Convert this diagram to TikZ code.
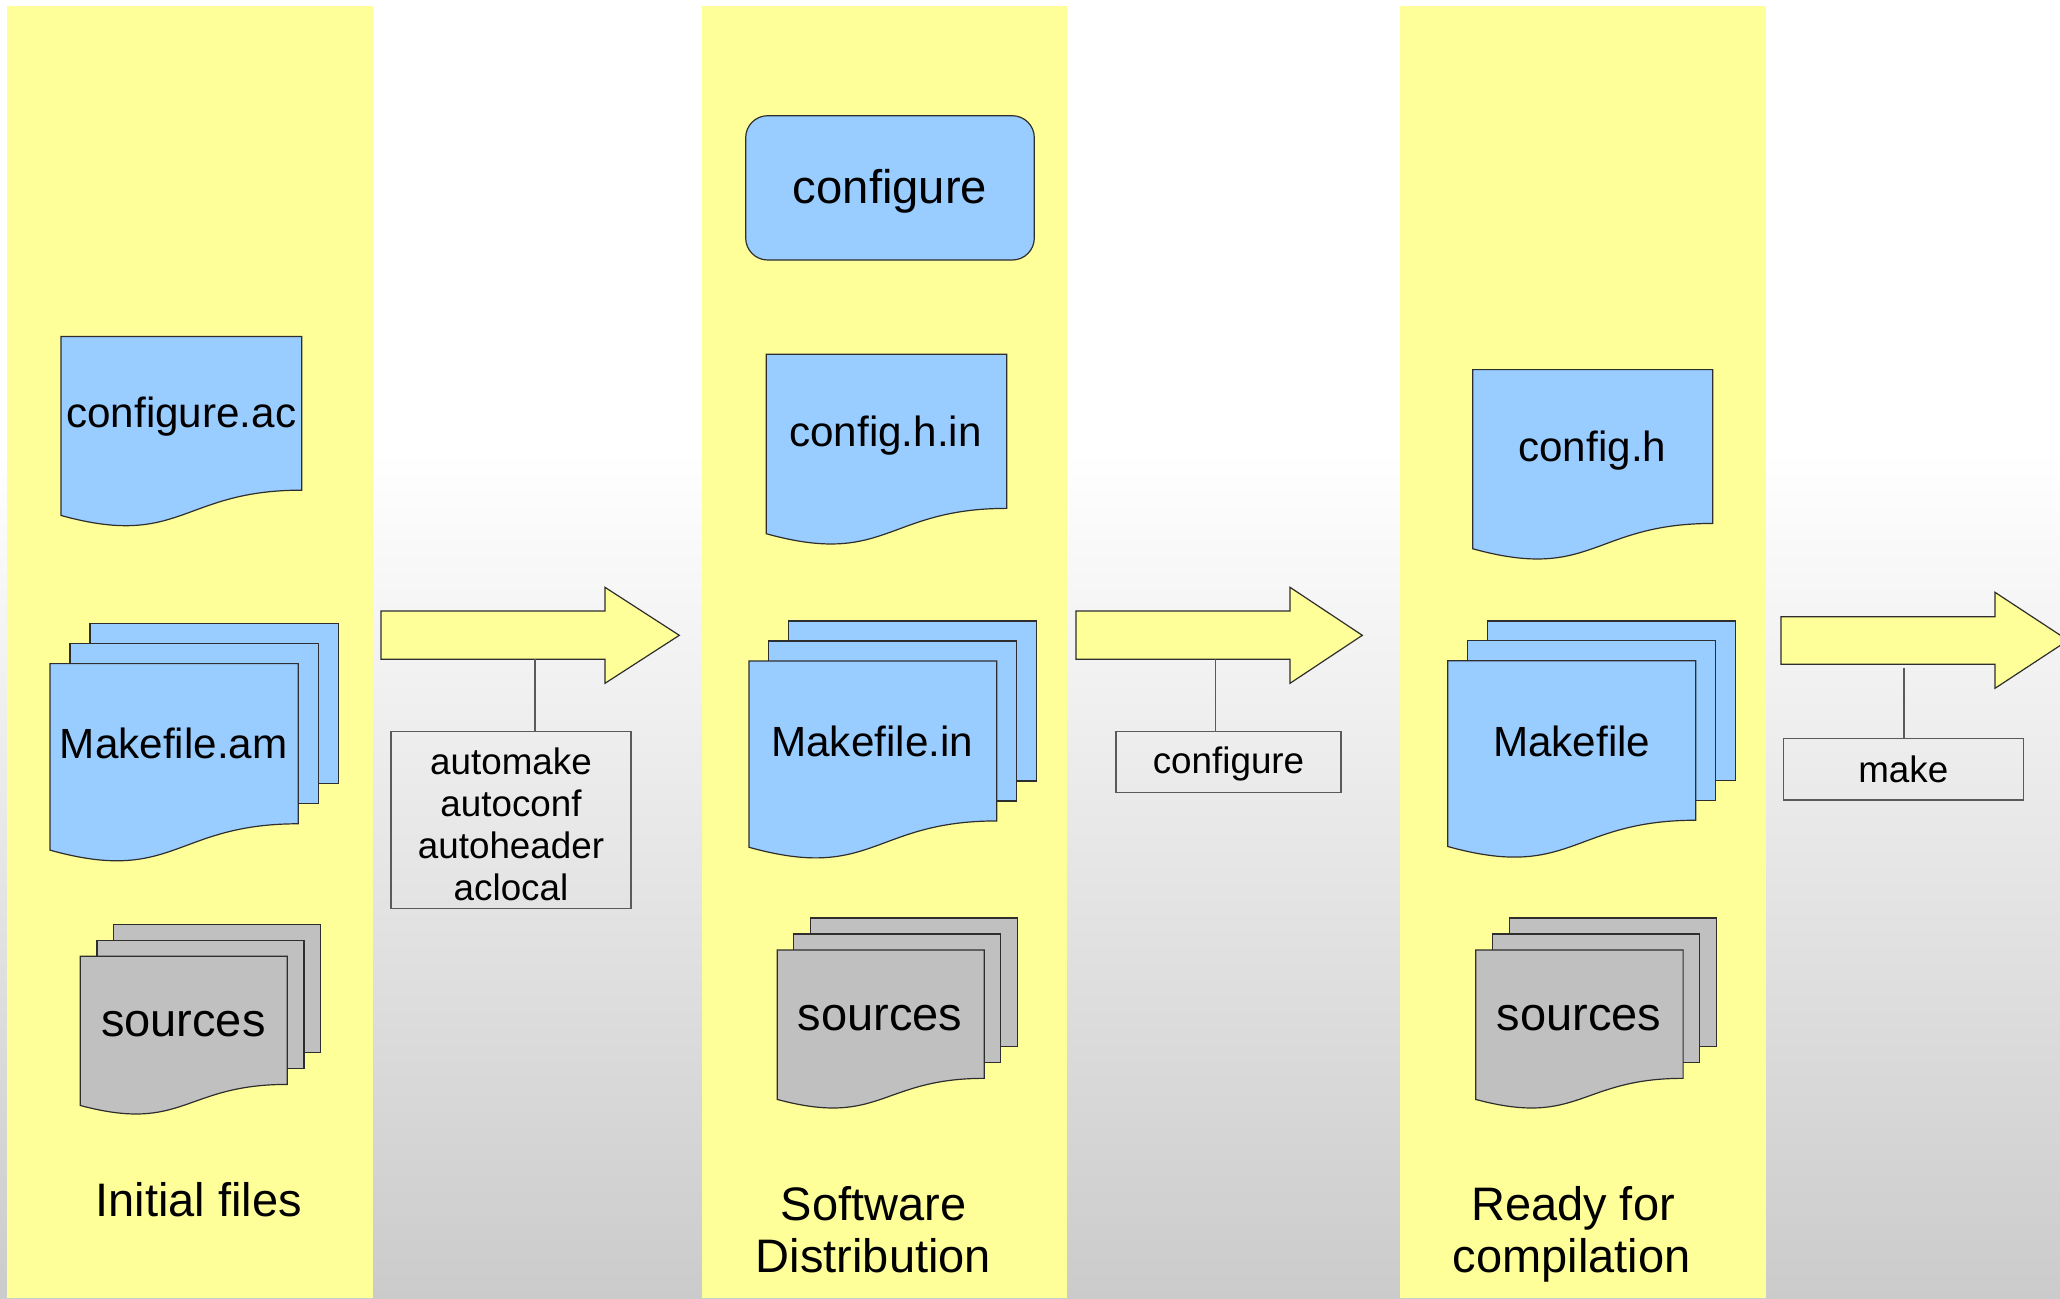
\documentclass[tikz,border=0pt]{standalone}
\usepackage{fontspec}
\setmainfont{Liberation Sans}

\definecolor{laneyellow}{HTML}{FFFF99}
\definecolor{fileblue}{HTML}{99CCFF}
\definecolor{srcgray}{HTML}{C0C0C0}
\definecolor{edgedark}{HTML}{2E2E2E}
\definecolor{boxgray}{HTML}{5A5A5A}
\definecolor{bgbottom}{HTML}{CBCBCB}

\tikzset{
  outline/.style={draw=edgedark, line width=0.6pt, line join=miter},
  captiontxt/.style={font=\fontsize{23.5}{26.4}\selectfont, anchor=base, inner sep=0pt},
  filetxt/.style={font=\fontsize{21.1}{25}\selectfont, anchor=base, inner sep=0pt},
  toolbox/.style={draw=boxgray, line width=0.6pt, align=center, inner sep=0pt,
    font=\fontsize{18.4}{21}\selectfont},
  tooltxt/.style={align=center, inner sep=0pt, font=\fontsize{18.4}{21}\selectfont},
  tie/.style={draw=boxgray, line width=0.75pt},
  fatarrow/.style={outline, fill=laneyellow},
}

% single document sheet with a wavy lower edge: x0, y0, width, height, fill
\newcommand\docsheet[5]{%
  \filldraw[outline, fill=#5] (#1,#2) -- ({#1+#3},#2) -- ({#1+#3},{#2+0.802*#4})
    .. controls ({#1+0.5*#3},{#2+0.802*#4}) and ({#1+0.5*#3},{#2+1.1075*#4})
    .. (#1,{#2+0.934*#4}) -- cycle;}
% stack of three sheets: x0, y0, width, height (front sheet), dx, dy, fill
\newcommand\sheetstack[7]{%
  \filldraw[outline, fill=#7] ({#1+2*#5},{#2-2*#6}) rectangle ++(#3,{0.802*#4});
  \filldraw[outline, fill=#7] ({#1+#5},{#2-#6}) rectangle ++(#3,{0.802*#4});
  \docsheet{#1}{#2}{#3}{#4}{#7}}
% block arrow: left x, shaft top y, shaft bottom y, head base x, head top y, head bottom y, tip x
\newcommand\blockarrow[7]{%
  \filldraw[fatarrow] (#1,#2) -- (#4,#2) -- (#4,#5) -- (#7,{0.5*(#5+#6)})
    -- (#4,#6) -- (#4,#3) -- (#1,#3) -- cycle;}

\begin{document}
\begin{tikzpicture}[x=0.5pt, y=-0.5pt]
  \useasboundingbox (0,0) rectangle (2060,1298);
  \clip (0,0) rectangle (2060,1298);

  % page background: white, fading to grey towards the bottom
  \fill[white] (0,0) rectangle (2060,1298);
  \shade[top color=white, bottom color=bgbottom] (0,450) rectangle (2060,1298);

  % the three stage lanes
  \fill[laneyellow] (7,6) rectangle (373,1298);
  \fill[laneyellow] (701.5,6) rectangle (1066.7,1298);
  \fill[laneyellow] (1399.5,6) rectangle (1766,1298);

  % ---------- stage 1: initial files ----------
  \docsheet{61}{336.4}{240.7}{191.7}{fileblue}
  \node[filetxt] (confac) at (181.2,427) {configure.ac};

  \sheetstack{50}{663.6}{248.3}{199.7}{20}{20}{fileblue}
  \node[filetxt] (mkam) at (173.7,758) {Makefile.am};

  \sheetstack{80.3}{956.3}{207}{159.7}{16.7}{16}{srcgray}
  \node[captiontxt] (srcA) at (183.3,1036) {sources};

  \node[captiontxt] (capA) at (198.7,1216) {Initial files};

  % ---------- stage 2: software distribution ----------
  \node[outline, fill=fileblue, rounded corners=11pt, minimum width=144.3pt,
        minimum height=72.15pt, inner sep=0pt, text height=20pt, text depth=4.6pt,
        font=\fontsize{23.6}{26}\selectfont]
        (confscript) at (890,187.85) {configure};

  \docsheet{766.3}{354.3}{240.4}{192.1}{fileblue}
  \node[filetxt] (confhin) at (885.5,446) {config.h.in};

  \sheetstack{749}{661}{247.7}{199.4}{19.7}{20}{fileblue}
  \node[filetxt] (mkin) at (872.2,756.8) {Makefile.in};

  \sheetstack{777.3}{950}{207}{160}{16.5}{16}{srcgray}
  \node[captiontxt] (srcB) at (880,1030) {sources};

  \node[captiontxt] (capB1) at (873.5,1220) {Software};
  \node[captiontxt] (capB2) at (873.5,1272.7) {Distribution};

  % ---------- stage 3: ready for compilation ----------
  \docsheet{1472.7}{369.6}{240}{191.8}{fileblue}
  \node[filetxt] (confh) at (1592.3,461.4) {config.h};

  \sheetstack{1447.7}{660.7}{248}{198.9}{20}{19.9}{fileblue}
  \node[filetxt] (mkfile) at (1571.7,756) {Makefile};

  \sheetstack{1475.8}{950}{207.3}{160}{16.7}{16}{srcgray}
  \node[captiontxt] (srcC) at (1579,1030) {sources};

  \node[captiontxt] (capC1) at (1573,1220) {Ready for};
  \node[captiontxt] (capC2) at (1571.7,1272.7) {compilation};

  % ---------- transitions between stages ----------
  \blockarrow{381}{611}{659.3}{605}{587.3}{683.3}{679.3}
  \coordinate (stepA) at (535,659.3);
  \node[toolbox, minimum width=120pt, minimum height=88.3pt] (toolsA) at (511,820) {};
  \node[tooltxt] (toolsAtext) at ([yshift=-2pt]toolsA.center)
    {automake\\autoconf\\autoheader\\aclocal};
  \draw[tie] (stepA) -- (stepA |- toolsA.north);

  \blockarrow{1076}{611}{659.3}{1290}{587.3}{683.3}{1362.3}
  \coordinate (stepB) at (1215.7,659.3);
  \node[toolbox, minimum width=112.5pt, minimum height=30.3pt,
        text height=16pt, text depth=4.7pt] (toolsB) at (1228.5,762) {configure};
  \draw[tie] (stepB) -- (stepB |- toolsB.north);

  \blockarrow{1781}{616.7}{664.3}{1995}{592.3}{688.3}{2068}
  \coordinate (stepC) at (1904,667.5);
  \node[toolbox, minimum width=120pt, minimum height=30.85pt] (toolsC) at (1903.3,769.2)
    {make};
  \draw[tie] (stepC) -- (stepC |- toolsC.north);
\end{tikzpicture}
\end{document}
